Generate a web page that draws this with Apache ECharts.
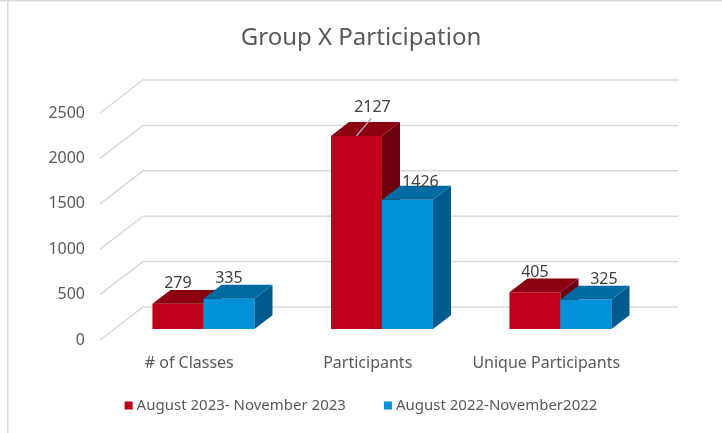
<!DOCTYPE html>
<html lang="en">
  <head>
    <meta charset="UTF-8" />
    <title>Group X Participation</title>
    <style>
      html, body { margin: 0; padding: 0; background: #fff; }
    </style>
  </head>
  <body>
    <div id="main" style="width: 722px; height: 433px"></div>
    <script src="https://cdn.jsdelivr.net/npm/echarts@6.0.0/dist/echarts.min.js"></script>
    <script>
      const categories = ['# of Classes', 'Participants', 'Unique Participants']
      const aug2023 = [279, 2127, 405]
      const aug2022 = [335, 1426, 325]
      const yTicks = [0, 500, 1000, 1500, 2000, 2500]
      const seriesNames = ['August 2023- November 2023', 'August 2022-November2022']

      // fake 3D: depth vector of the floor, bar sits between FRONT and FRONT+THICK of it
      const DEPTH = [43, -33]
      const FRONT = 0.33
      const THICK = 0.42
      const BAR_RATIO = 0.2857

      const palette = [
        { front: '#C0001A', top: '#8C0012', side: '#6C000E' },
        { front: '#0091D9', top: '#006AA3', side: '#005A8B' }
      ]

      // excel moved a few labels to dodge each other (key: series-category)
      const labelNudge = { '1-2': [16, -9, true], '2-2': [13, 3], '2-3': [18, 0] }

      const myChart = echarts.init(document.getElementById('main'), null, { renderer: 'canvas' })

      const wallLines = (params, api) => {
        const v = api.value(1)
        const band = api.size([1, 0])[0]
        const p = api.coord([0, v])
        const left = p[0] - band / 2
        const right = api.coord([categories.length - 1, v])[0] + band / 2
        return {
          type: 'polyline',
          shape: {
            points: [
              [left, p[1]],
              [left + DEPTH[0], p[1] + DEPTH[1]],
              [right + DEPTH[0], p[1] + DEPTH[1]]
            ]
          },
          style: { stroke: '#D9D9D9', lineWidth: 1.5, fill: null },
          silent: true
        }
      }

      const bar3d = s => (params, api) => {
        const cat = api.value(0)
        const v = api.value(1)
        const base = api.coord([cat, 0])
        const top = api.coord([cat, v])
        const band = api.size([1, 0])[0]
        const bw = band * BAR_RATIO
        const x0 = base[0] - bw + s * bw + DEPTH[0] * FRONT
        const y0 = base[1] + DEPTH[1] * FRONT
        const yT = top[1] + DEPTH[1] * FRONT
        const dx = DEPTH[0] * THICK
        const dy = DEPTH[1] * THICK
        const c = palette[s]
        const nudge = labelNudge[s + 1 + '-' + (cat + 1)] || [0, 0]
        const lx = x0 + bw / 2 + nudge[0]
        const ly = yT + dy - 6 + nudge[1]
        const children = [
          { type: 'rect', shape: { x: x0, y: yT, width: bw, height: y0 - yT }, style: { fill: c.front } },
          {
            type: 'polygon',
            shape: { points: [[x0, yT], [x0 + bw, yT], [x0 + bw + dx, yT + dy], [x0 + dx, yT + dy]] },
            style: { fill: c.top }
          },
          {
            type: 'polygon',
            shape: { points: [[x0 + bw, yT], [x0 + bw + dx, yT + dy], [x0 + bw + dx, y0 + dy], [x0 + bw, y0]] },
            style: { fill: c.side }
          },
          {
            type: 'text',
            x: lx,
            y: ly,
            style: {
              text: String(v),
              fill: '#404040',
              font: '16px "Noto Sans"',
              align: 'center',
              verticalAlign: 'middle'
            }
          }
        ]
        if (nudge[2]) {
          children.push({
            type: 'line',
            shape: { x1: x0 + bw / 2, y1: yT, x2: lx - 1, y2: ly + 11 },
            style: { stroke: '#A6A6A6', lineWidth: 1.5 }
          })
        }
        return { type: 'group', children }
      }

      const option = {
        animation: false,
        textStyle: { fontFamily: 'Noto Sans' },
        title: {
          text: 'Group X Participation',
          left: 'center',
          top: 21,
          textStyle: { fontSize: 24, fontWeight: 'normal', color: '#595959', fontFamily: 'Noto Sans' }
        },
        graphic: [
          { type: 'line', shape: { x1: 0, y1: 0.75, x2: 722, y2: 0.75 }, style: { stroke: '#D9D9D9', lineWidth: 1.5 } },
          { type: 'line', shape: { x1: 7.75, y1: 0, x2: 7.75, y2: 433 }, style: { stroke: '#D9D9D9', lineWidth: 1.5 } }
        ],
        grid: { left: 100, right: 86.5, top: 113, bottom: 93 },
        xAxis: {
          type: 'category',
          data: categories,
          axisLine: { show: false },
          axisTick: { show: false },
          axisLabel: { color: '#595959', fontSize: 16, margin: 15, interval: 0 }
        },
        yAxis: {
          type: 'value',
          min: 0,
          max: 2500,
          interval: 500,
          splitLine: { show: false },
          axisLabel: { color: '#595959', fontSize: 16, margin: 15, formatter: v => String(v) }
        },
        legend: {
          bottom: 15,
          left: 'center',
          icon: 'rect',
          itemWidth: 8,
          itemHeight: 8,
          itemGap: 38,
          data: seriesNames,
          textStyle: { color: '#595959', fontSize: 15, padding: [0, 0, 0, -1] }
        },
        series: [
          {
            type: 'custom',
            name: 'walls',
            z: 1,
            renderItem: wallLines,
            data: yTicks.map(v => [0, v]),
            silent: true
          },
          {
            type: 'custom',
            name: seriesNames[0],
            z: 2,
            itemStyle: { color: palette[0].front },
            renderItem: bar3d(0),
            data: aug2023.map((v, i) => [i, v])
          },
          {
            type: 'custom',
            name: seriesNames[1],
            z: 3,
            itemStyle: { color: palette[1].front },
            renderItem: bar3d(1),
            data: aug2022.map((v, i) => [i, v])
          }
        ]
      }

      myChart.setOption(option)
    </script>
  </body>
</html>
